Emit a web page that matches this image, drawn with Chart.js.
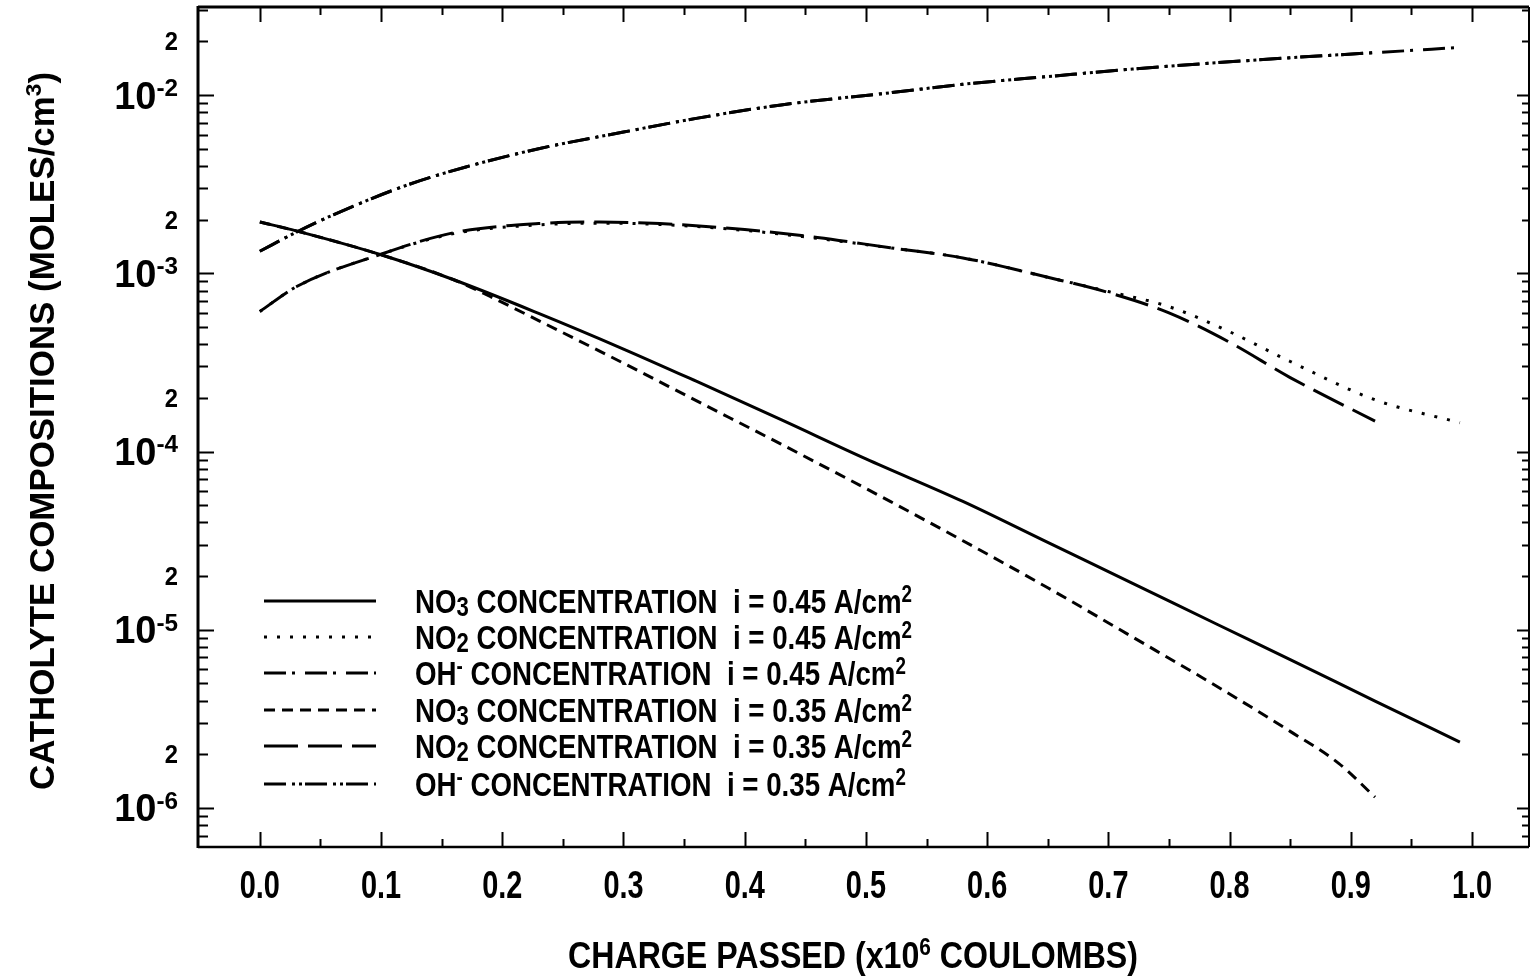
<!DOCTYPE html>
<html>
<head>
<meta charset="utf-8">
<title>Catholyte compositions</title>
<script src="https://cdn.jsdelivr.net/npm/chart.js@4.4.1/dist/chart.umd.min.js"></script>
<style>
  html, body { margin: 0; padding: 0; background: #fff; }
  canvas { display: block; }
</style>
</head>
<body>
<canvas id="chart" width="1531" height="976"></canvas>
<script>
// ---- data ----
const xTickValues = [0, 0.1, 0.2, 0.3, 0.4, 0.5, 0.6, 0.7, 0.8, 0.9, 1.0];
const xTickLabels = ['0.0', '0.1', '0.2', '0.3', '0.4', '0.5', '0.6', '0.7', '0.8', '0.9', '1.0'];
const yDecadeValues = [1e-6, 1e-5, 1e-4, 1e-3, 1e-2];
const yDecadeLabels = ['10^{-6}', '10^{-5}', '10^{-4}', '10^{-3}', '10^{-2}'];
const yTwoValues = [2e-6, 2e-5, 2e-4, 2e-3, 2e-2];

const seriesLabels = [
  'NO_{3} CONCENTRATION  i = 0.45 A/cm^{2}',
  'NO_{2} CONCENTRATION  i = 0.45 A/cm^{2}',
  'OH^{-} CONCENTRATION  i = 0.45 A/cm^{2}',
  'NO_{3} CONCENTRATION  i = 0.35 A/cm^{2}',
  'NO_{2} CONCENTRATION  i = 0.35 A/cm^{2}',
  'OH^{-} CONCENTRATION  i = 0.35 A/cm^{2}'
];

// NO3, i = 0.45
const no3HighX = [0, 0.03, 0.1, 0.16, 0.23, 0.3, 0.36, 0.43, 0.5, 0.58, 0.65, 0.72, 0.79, 0.85, 0.92, 0.99];
const no3HighY = [1.94e-3, 1.73e-3, 1.27e-3, 9.2e-4, 5.96e-4, 3.76e-4, 2.48e-4, 1.51e-4, 9.1e-5, 5.25e-5, 3.09e-5, 1.82e-5, 1.07e-5, 6.8e-6, 3.98e-6, 2.34e-6];

// NO2, i = 0.45
const no2HighX = [0, 0.03, 0.1, 0.16, 0.23, 0.28, 0.33, 0.4, 0.46, 0.52, 0.58, 0.65, 0.7, 0.75, 0.8, 0.85, 0.92, 0.99];
const no2HighY = [6.1e-4, 8.4e-4, 1.28e-3, 1.67e-3, 1.87e-3, 1.91e-3, 1.88e-3, 1.74e-3, 1.57e-3, 1.39e-3, 1.22e-3, 9.5e-4, 7.9e-4, 6.5e-4, 4.7e-4, 3.2e-4, 1.95e-4, 1.45e-4];

// OH-, i = 0.45
const ohHighX = [0, 0.03, 0.06, 0.12, 0.17, 0.23, 0.3, 0.36, 0.43, 0.52, 0.58, 0.65, 0.72, 0.79, 0.85, 0.92, 0.99];
const ohHighY = [1.33e-3, 1.70e-3, 2.12e-3, 3.1e-3, 3.95e-3, 5.0e-3, 6.2e-3, 7.4e-3, 8.8e-3, 1.03e-2, 1.15e-2, 1.27e-2, 1.40e-2, 1.52e-2, 1.62e-2, 1.73e-2, 1.85e-2];

// NO3, i = 0.35
const no3LowX = [0, 0.03, 0.1, 0.16, 0.19, 0.23, 0.3, 0.36, 0.43, 0.47, 0.52, 0.58, 0.65, 0.72, 0.79, 0.85, 0.89, 0.92];
const no3LowY = [1.94e-3, 1.73e-3, 1.27e-3, 9.2e-4, 7.41e-4, 5.43e-4, 3.13e-4, 1.93e-4, 1.10e-4, 7.94e-5, 5.25e-5, 3.16e-5, 1.72e-5, 9.1e-6, 4.79e-6, 2.69e-6, 1.78e-6, 1.15e-6];

// NO2, i = 0.35
const no2LowX = [0, 0.03, 0.1, 0.16, 0.23, 0.28, 0.33, 0.4, 0.46, 0.52, 0.58, 0.65, 0.7, 0.75, 0.8, 0.85, 0.92];
const no2LowY = [6.1e-4, 8.4e-4, 1.28e-3, 1.69e-3, 1.9e-3, 1.94e-3, 1.9e-3, 1.76e-3, 1.59e-3, 1.39e-3, 1.22e-3, 9.5e-4, 7.8e-4, 6.0e-4, 4.1e-4, 2.6e-4, 1.48e-4];

// OH-, i = 0.35
const ohLowX = [0, 0.03, 0.06, 0.12, 0.17, 0.23, 0.3, 0.36, 0.43, 0.52, 0.58, 0.65, 0.72, 0.79, 0.85, 0.92];
const ohLowY = [1.33e-3, 1.70e-3, 2.12e-3, 3.1e-3, 3.95e-3, 5.0e-3, 6.2e-3, 7.4e-3, 8.8e-3, 1.03e-2, 1.15e-2, 1.27e-2, 1.40e-2, 1.52e-2, 1.62e-2, 1.73e-2];

const FONT = '"Liberation Sans", Arial, Helvetica, sans-serif';

function toPoints(xs, ys) {
  return xs.map((x, i) => ({ x: x, y: ys[i] }));
}

// "_{..}" subscript, "^{..}" superscript
function parseRich(str) {
  return str.split(/(_\{[^}]*\}|\^\{[^}]*\})/).filter(s => s.length).map(s => {
    if (s.startsWith('_{')) return { s: s.slice(2, -1), t: 'sub' };
    if (s.startsWith('^{')) return { s: s.slice(2, -1), t: 'sup' };
    return { s: s, t: '' };
  });
}

function segFont(o, seg) {
  const size = seg.t === 'sub' ? o.size * o.subScale : seg.t === 'sup' ? o.size * o.supScale : o.size;
  return 'bold ' + size.toFixed(1) + 'px ' + FONT;
}

function richWidth(ctx, str, o) {
  let w = 0;
  for (const seg of parseRich(str)) {
    ctx.font = segFont(o, seg);
    w += ctx.measureText(seg.s).width;
  }
  return w;
}

function withDefaults(opts) {
  return Object.assign({ size: 28, squeeze: 1, align: 'left', subScale: 0.8, supScale: 0.68,
    subDrop: 0.1, supRise: 0.34, rotate: 0, fit: 0 }, opts);
}

function drawRich(ctx, str, x, y, opts) {
  const o = withDefaults(opts);
  const raw = richWidth(ctx, str, o);
  const sq = o.fit ? o.fit / raw : o.squeeze;
  const w = raw * sq;
  const start = o.align === 'center' ? -w / 2 : o.align === 'right' ? -w : 0;
  ctx.save();
  ctx.translate(x, y);
  if (o.rotate) ctx.rotate(o.rotate);
  ctx.translate(start, 0);
  ctx.scale(sq, 1);
  ctx.fillStyle = '#000';
  ctx.textBaseline = 'alphabetic';
  ctx.textAlign = 'left';
  let cx = 0;
  for (const seg of parseRich(str)) {
    ctx.font = segFont(o, seg);
    const dy = seg.t === 'sup' ? -o.size * o.supRise : seg.t === 'sub' ? o.size * o.subDrop : 0;
    ctx.fillText(seg.s, cx, dy);
    cx += ctx.measureText(seg.s).width;
  }
  ctx.restore();
}

// frame, inward ticks, tick labels, titles and the legend
const paperAxes = {
  id: 'paperAxes',
  afterDatasetsDraw(chart) {
    const { ctx, chartArea: a, scales: { x, y } } = chart;
    ctx.save();
    ctx.strokeStyle = '#000';
    ctx.lineCap = 'butt';
    ctx.setLineDash([]);

    const side = (w, x1, y1, x2, y2) => {
      ctx.lineWidth = w;
      ctx.beginPath(); ctx.moveTo(x1, y1); ctx.lineTo(x2, y2); ctx.stroke();
    };
    side(3, a.left, a.top - 1, a.left, a.bottom + 1);
    side(3, a.left, a.top, a.right, a.top);
    side(2.5, a.left, a.bottom, a.right, a.bottom);
    side(2, a.right, a.top, a.right, a.bottom);

    // x ticks every 0.05, longer at each 0.1
    ctx.lineWidth = 2;
    for (let i = 0; i <= 20; i++) {
      const px = Math.round(x.getPixelForValue(i * 0.05)) + 0.5;
      const len = i % 2 === 0 ? 15 : 8;
      ctx.beginPath();
      ctx.moveTo(px, a.bottom); ctx.lineTo(px, a.bottom - len);
      ctx.moveTo(px, a.top); ctx.lineTo(px, a.top + len);
      ctx.stroke();
    }

    // log ticks on left and right
    for (let e = -7; e <= -1; e++) {
      for (let m = 1; m <= 9; m++) {
        const v = m * Math.pow(10, e);
        if (v < y.min || v > y.max) continue;
        const py = Math.round(y.getPixelForValue(v)) + 0.5;
        const lenL = m === 1 ? 16 : 10;
        const lenR = m === 1 ? 12 : 7;
        ctx.beginPath();
        ctx.moveTo(a.left, py); ctx.lineTo(a.left + lenL, py);
        ctx.moveTo(a.right, py); ctx.lineTo(a.right - lenR, py);
        ctx.stroke();
      }
    }

    // y labels
    yDecadeValues.forEach((v, i) => {
      const py = y.getPixelForValue(v);
      drawRich(ctx, yDecadeLabels[i], 178, py + 13.5, { size: 38, squeeze: 1.0, align: 'right', supScale: 0.64, supRise: 0.33 });
    });
    yTwoValues.forEach(v => {
      const py = y.getPixelForValue(v);
      drawRich(ctx, '2', 178, py + 9, { size: 25, squeeze: 0.95, align: 'right' });
    });

    // x labels
    xTickValues.forEach((v, i) => {
      drawRich(ctx, xTickLabels[i], x.getPixelForValue(v), 898, { size: 38, squeeze: 0.76, align: 'center' });
    });

    // axis titles
    drawRich(ctx, 'CHARGE PASSED (x10^{6} COULOMBS)', 853, 968, { size: 36, fit: 570, align: 'center', supScale: 0.65, supRise: 0.36 });
    drawRich(ctx, 'CATHOLYTE COMPOSITIONS (MOLES/cm^{3})', 54, 431, { size: 35, fit: 718, align: 'center', rotate: -Math.PI / 2, supScale: 0.65, supRise: 0.36 });

    // legend
    const rows = [601, 637, 673, 710, 746, 784];
    const legOpts = withDefaults({ size: 34, subScale: 0.8, supScale: 0.68, subDrop: 0.1, supRise: 0.32 });
    const legSq = 497 / richWidth(ctx, seriesLabels[0], legOpts);
    chart.data.datasets.forEach((ds, i) => {
      const ry = rows[i];
      ctx.save();
      ctx.lineWidth = ds.borderWidth;
      ctx.setLineDash(ds.borderDash || []);
      ctx.beginPath();
      ctx.moveTo(264, ry); ctx.lineTo(376, ry);
      ctx.stroke();
      ctx.restore();
      drawRich(ctx, seriesLabels[i], 415, ry + 12, Object.assign({}, legOpts, { squeeze: legSq }));
    });

    ctx.restore();
  }
};

const lineStyle = { borderColor: '#000', backgroundColor: '#000', borderWidth: 3, pointRadius: 0, fill: false,
  cubicInterpolationMode: 'monotone', borderCapStyle: 'butt' };

new Chart(document.getElementById('chart'), {
  type: 'line',
  data: {
    datasets: [
      Object.assign({ label: seriesLabels[0], data: toPoints(no3HighX, no3HighY), borderDash: [] }, lineStyle),
      Object.assign({ label: seriesLabels[1], data: toPoints(no2HighX, no2HighY), borderDash: [3, 10] }, lineStyle),
      Object.assign({ label: seriesLabels[2], data: toPoints(ohHighX, ohHighY), borderDash: [22, 6, 3, 10] }, lineStyle),
      Object.assign({ label: seriesLabels[3], data: toPoints(no3LowX, no3LowY), borderDash: [11, 7] }, lineStyle),
      Object.assign({ label: seriesLabels[4], data: toPoints(no2LowX, no2LowY), borderDash: [34, 10] }, lineStyle),
      Object.assign({ label: seriesLabels[5], data: toPoints(ohLowX, ohLowY), borderDash: [22, 6, 3, 4, 3, 3] }, lineStyle)
    ]
  },
  options: {
    responsive: false,
    animation: false,
    devicePixelRatio: 1,
    layout: { padding: { left: 198, right: 2, top: 7, bottom: 129 } },
    plugins: { legend: { display: false }, tooltip: { enabled: false } },
    scales: {
      x: { type: 'linear', min: -0.051, max: 1.047, display: false },
      y: { type: 'logarithmic', min: 6.04e-7, max: 0.0312, display: false }
    }
  },
  plugins: [paperAxes]
});
</script>
</body>
</html>
